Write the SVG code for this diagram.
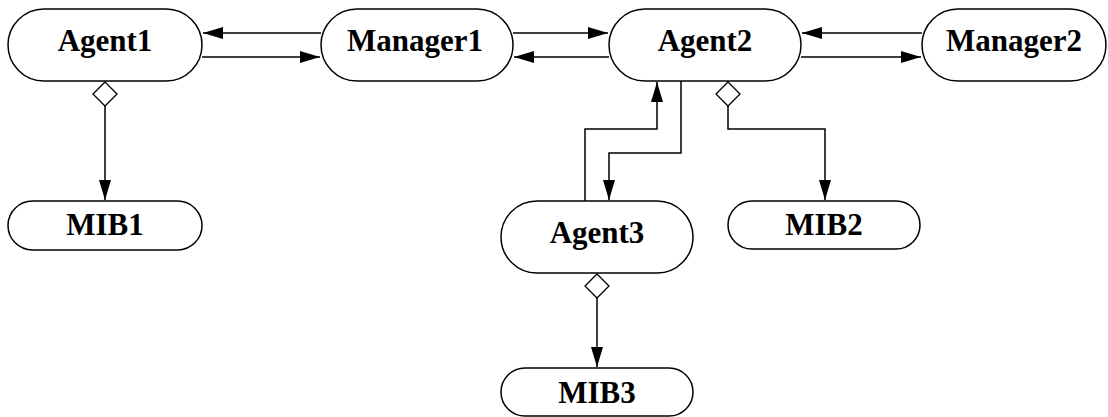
<svg xmlns="http://www.w3.org/2000/svg" width="1108" height="417" viewBox="0 0 1108 417">
<style>
.n{fill:#fff;stroke:#000;stroke-width:1.5}
.t{font-family:"Liberation Serif","Times New Roman",serif;font-weight:bold;font-size:31px;text-anchor:middle;fill:#000}
.c{fill:none;stroke:#000;stroke-width:1.5}
.d{fill:#fff;stroke:#000;stroke-width:1.3}
</style>
<defs>
<marker id="ah" viewBox="0 0 20 12" refX="20" refY="6" markerWidth="20" markerHeight="12" markerUnits="userSpaceOnUse" orient="auto">
<path d="M0,0 L20,6 L0,12 Z" fill="#000"/>
</marker>
</defs>
<g id="connectors">
<line class="c" x1="321" y1="33" x2="203" y2="33" marker-end="url(#ah)"/>
<line class="c" x1="202" y1="57" x2="320" y2="57" marker-end="url(#ah)"/>
<line class="c" x1="513" y1="33" x2="608" y2="33" marker-end="url(#ah)"/>
<line class="c" x1="609" y1="57" x2="514" y2="57" marker-end="url(#ah)"/>
<line class="c" x1="922" y1="33" x2="802" y2="33" marker-end="url(#ah)"/>
<line class="c" x1="801" y1="57" x2="921" y2="57" marker-end="url(#ah)"/>
<polyline class="c" points="105,105 105,200" marker-end="url(#ah)"/>
<polyline class="c" points="585,201 585,129 657,129 657,82" marker-end="url(#ah)"/>
<polyline class="c" points="681,81 681,153 609,153 609,200" marker-end="url(#ah)"/>
<polyline class="c" points="728,105 728,129 825,129 825,200" marker-end="url(#ah)"/>
<polyline class="c" points="597,297 597,367" marker-end="url(#ah)"/>
<path class="d" d="M105,82 L117,94 L105,106 L93,94 Z"/>
<path class="d" d="M728,82 L740,94 L728,106 L716,94 Z"/>
<path class="d" d="M597,274 L609,286 L597,298 L585,286 Z"/>
</g>
<g id="Agent1"><rect class="n" x="8" y="9" width="194" height="72" rx="36"/><text class="t" x="105" y="51">Agent1</text></g>
<g id="Manager1"><rect class="n" x="321" y="9" width="192" height="72" rx="36"/><text class="t" x="415" y="51">Manager1</text></g>
<g id="Agent2"><rect class="n" x="609" y="9" width="192" height="72" rx="36"/><text class="t" x="705" y="51">Agent2</text></g>
<g id="Manager2"><rect class="n" x="922" y="9" width="184" height="72" rx="36"/><text class="t" x="1014" y="51">Manager2</text></g>
<g id="MIB1"><rect class="n" x="8" y="201" width="194" height="49" rx="24.5"/><text class="t" x="105" y="235">MIB1</text></g>
<g id="Agent3"><rect class="n" x="501" y="201" width="192" height="72" rx="36"/><text class="t" x="597" y="243">Agent3</text></g>
<g id="MIB2"><rect class="n" x="728" y="201" width="192" height="48" rx="24"/><text class="t" x="824" y="235">MIB2</text></g>
<g id="MIB3"><rect class="n" x="501" y="368" width="192" height="48" rx="24"/><text class="t" x="597" y="403">MIB3</text></g>
</svg>
